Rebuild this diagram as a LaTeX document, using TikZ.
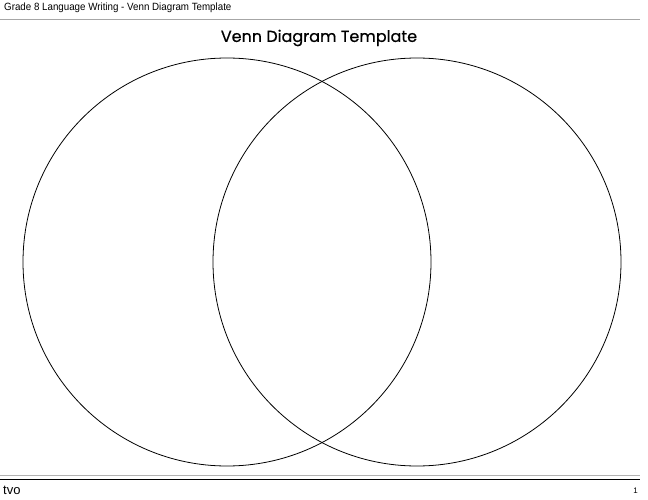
\documentclass[tikz,border=0pt]{standalone}
\usepackage{fontspec}
\setmainfont{Liberation Sans}
\newfontfamily\titlefont[FakeBold=0.6]{Poppins}
\begin{document}
\begin{tikzpicture}[x=1pt,y=-1pt,
  venn/.style={draw=black,line width=0.8pt},
  rule/.style={line width=1pt}]
\useasboundingbox[fill=white] (0,0) rectangle (648,500);
\node[anchor=west,font=\fontsize{10.5}{12}\selectfont,inner sep=0,xscale=0.93] (hdr) at (4,8) {Grade 8 Language Writing - Venn Diagram Template};
\draw[rule,gray!70] (0,20) -- (640,20);
\node[font=\titlefont\fontsize{16}{18}\selectfont,inner sep=0] (title) at (319,38) {Venn Diagram Template};
\node[venn,circle,minimum size=408pt,inner sep=0] (left) at (227,262) {};
\node[venn,circle,minimum size=408pt,inner sep=0] (right) at (417,262) {};
\draw[rule,gray!60] (0,475) -- (640,475);
\draw[line width=0.8pt,black] (0,479) -- (640,479);
\node[anchor=west,font=\fontsize{13}{15}\selectfont,inner sep=0] (tvo) at (3,490) {tvo};
\node[anchor=east,font=\fontsize{8}{9}\selectfont,inner sep=0] (pg) at (638,491) {1};
\end{tikzpicture}
\end{document}
